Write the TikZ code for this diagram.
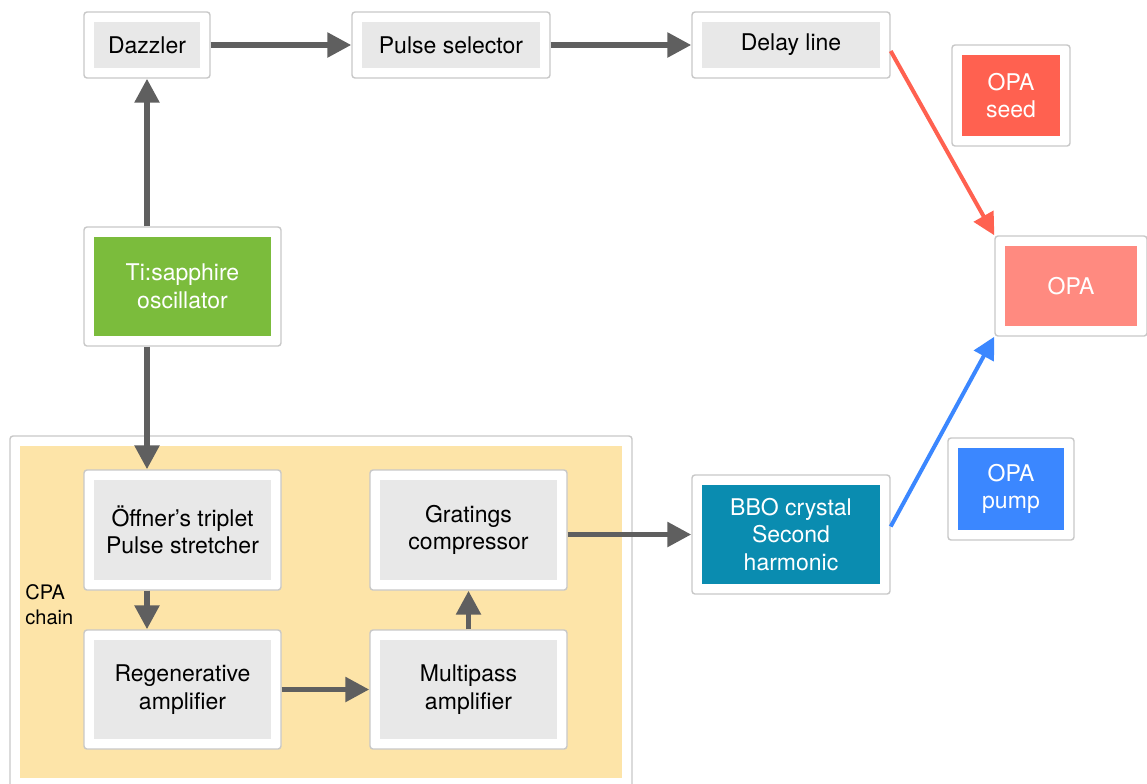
\documentclass[tikz,border=0pt]{standalone}
\usepackage{fontspec}
\setmainfont{TeX Gyre Heros}
\usetikzlibrary{arrows.meta}
\definecolor{frame}{HTML}{C8C8C8}
\definecolor{panel}{HTML}{E8E8E8}
\definecolor{flowgray}{HTML}{5F5F5F}
\definecolor{seedred}{HTML}{FF6150}
\definecolor{opasalmon}{HTML}{FF8A80}
\definecolor{oscgreen}{HTML}{7BBC3C}
\definecolor{pumpblue}{HTML}{3B87FF}
\definecolor{bboteal}{HTML}{0A8CB0}
\definecolor{cpafill}{HTML}{FDE4A8}

\begin{document}
\begin{tikzpicture}[x=0.5pt, y=-0.5pt,
  stage/.style={draw=frame, fill=white, rounded corners=1.5pt, line width=0.7pt,
                align=center, font=\fontsize{11.5}{13.8}\selectfont,
                path picture={\fill[sharp corners, #1]
                  ([shift={(5pt,-5pt)}]path picture bounding box.north west) rectangle
                  ([shift={(-5pt,5pt)}]path picture bounding box.south east);}},
  stage/.default=panel,
  flow/.style={-{Triangle[length=12pt,width=12pt]}, line width=2.8pt, color=flowgray},
  beam/.style={-{Triangle[length=11pt,width=11pt]}, line width=2pt, color=#1},
]
\useasboundingbox (0,0) rectangle (1147,783);

% CPA chain frame
\node[stage=cpafill, minimum width=311pt, minimum height=176pt] (cpa) at (321,612) {};
\node[font=\fontsize{10}{12.5}\selectfont, align=left, anchor=north west, inner sep=0pt] (cpalabel) at (25,584) {CPA\\chain};

% top row
\node[stage, minimum width=63pt, minimum height=33pt] (dazzler) at (147,45) {Dazzler};
\node[stage, minimum width=99pt, minimum height=33pt] (selector) at (451,45) {Pulse selector};
\node[stage, minimum width=99pt, minimum height=33pt] (delay) at (791,45) {Delay line};

% oscillator
\node[stage=oscgreen, text=white, minimum width=98.5pt, minimum height=59.5pt] (osc) at (182.5,286.5) {Ti:sapphire\\oscillator};

% CPA stages
\node[stage, minimum width=98.5pt, minimum height=60pt] (offner) at (182.5,530) {Öffner’s triplet\\Pulse stretcher};
\node[stage, minimum width=98.5pt, minimum height=60pt] (gratings) at (468.5,530) {Gratings\\compressor};
\node[stage, minimum width=98.5pt, minimum height=59.5pt] (regen) at (182.5,689.5) {Regenerative\\amplifier};
\node[stage, minimum width=98.5pt, minimum height=59.5pt] (multipass) at (468.5,689.5) {Multipass\\amplifier};

% OPA side
\node[stage=bboteal, text=white, minimum width=99pt, minimum height=59.5pt] (bbo) at (791,534.5) {BBO crystal\\Second\\harmonic};
\node[stage=seedred, text=white, minimum width=59pt, minimum height=50.5pt] (seed) at (1011,95.5) {OPA\\seed};
\node[stage=opasalmon, text=white, minimum width=76pt, minimum height=50pt] (opa) at (1071,286) {OPA};
\node[stage=pumpblue, text=white, minimum width=63pt, minimum height=51pt] (pump) at (1011,489) {OPA\\pump};

\draw[flow] (osc.north -| dazzler) -- (dazzler);
\draw[flow] (dazzler) -- (selector);
\draw[flow] (selector) -- (delay);
\draw[flow] (osc.south -| dazzler) -- (offner.north -| dazzler);
\draw[flow] (offner.south -| dazzler) -- (regen.north -| dazzler);
\draw[flow] (regen) -- (multipass);
\draw[flow] (multipass) -- (gratings);
\draw[flow] (gratings.east |- bbo) -- (bbo);
\draw[beam=seedred] ([yshift=-3pt]delay.east) -- (opa.north west);
\draw[beam=pumpblue] ([yshift=4pt]bbo.east) -- (opa.south west);
\end{tikzpicture}
\end{document}
